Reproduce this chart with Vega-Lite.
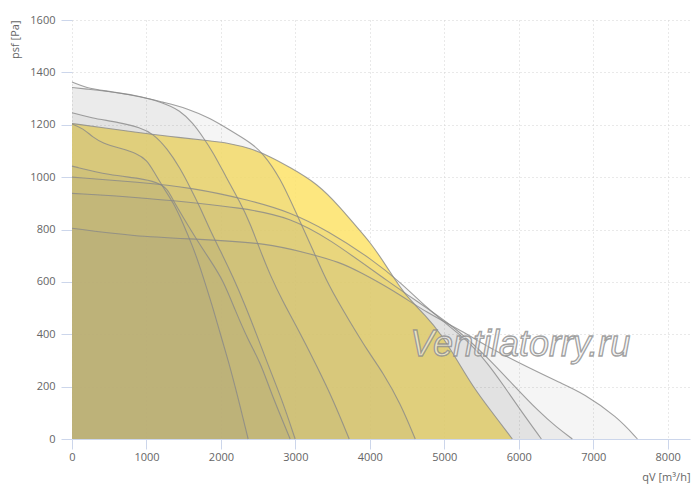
{
  "$schema": "https://vega.github.io/schema/vega-lite/v6.json",
  "width": 618,
  "height": 419,
  "autosize": {"type": "none"},
  "padding": {"left": 72, "top": 20, "right": 10, "bottom": 54},
  "background": "white",
  "config": {"view": {"stroke": null}, "font": "Open Sans"},
  "datasets": {
    "curves": [
      {"s": "A", "q": 0, "p": 1363}, {"s": "A", "q": 200, "p": 1340}, {"s": "A", "q": 417, "p": 1331}, {"s": "A", "q": 874, "p": 1312},
      {"s": "A", "q": 1223, "p": 1286}, {"s": "A", "q": 1546, "p": 1263}, {"s": "A", "q": 1855, "p": 1225}, {"s": "A", "q": 2124, "p": 1179},
      {"s": "A", "q": 2392, "p": 1133}, {"s": "A", "q": 2554, "p": 1095}, {"s": "A", "q": 2796, "p": 999}, {"s": "A", "q": 3024, "p": 854},
      {"s": "A", "q": 3239, "p": 721}, {"s": "A", "q": 3441, "p": 587}, {"s": "A", "q": 3736, "p": 446}, {"s": "A", "q": 3965, "p": 339},
      {"s": "A", "q": 4180, "p": 252}, {"s": "A", "q": 4408, "p": 137}, {"s": "A", "q": 4610, "p": 0},

      {"s": "B", "q": 0, "p": 1342}, {"s": "B", "q": 200, "p": 1336}, {"s": "B", "q": 417, "p": 1330}, {"s": "B", "q": 874, "p": 1311},
      {"s": "B", "q": 1223, "p": 1285}, {"s": "B", "q": 1452, "p": 1255}, {"s": "B", "q": 1626, "p": 1206}, {"s": "B", "q": 1761, "p": 1152},
      {"s": "B", "q": 1895, "p": 1095}, {"s": "B", "q": 2070, "p": 1000}, {"s": "B", "q": 2258, "p": 904}, {"s": "B", "q": 2392, "p": 824},
      {"s": "B", "q": 2527, "p": 721}, {"s": "B", "q": 2661, "p": 626}, {"s": "B", "q": 2822, "p": 530}, {"s": "B", "q": 3064, "p": 404},
      {"s": "B", "q": 3293, "p": 275}, {"s": "B", "q": 3508, "p": 149}, {"s": "B", "q": 3723, "p": 0},

      {"s": "C", "q": 0, "p": 1246}, {"s": "C", "q": 242, "p": 1227}, {"s": "C", "q": 645, "p": 1208}, {"s": "C", "q": 914, "p": 1189},
      {"s": "C", "q": 1089, "p": 1166}, {"s": "C", "q": 1277, "p": 1110}, {"s": "C", "q": 1452, "p": 1034}, {"s": "C", "q": 1586, "p": 961},
      {"s": "C", "q": 1720, "p": 885}, {"s": "C", "q": 1855, "p": 797}, {"s": "C", "q": 1989, "p": 721}, {"s": "C", "q": 2164, "p": 618},
      {"s": "C", "q": 2325, "p": 511}, {"s": "C", "q": 2473, "p": 404}, {"s": "C", "q": 2634, "p": 282}, {"s": "C", "q": 2822, "p": 149},
      {"s": "C", "q": 2997, "p": 0},

      {"s": "D", "q": 0, "p": 1203}, {"s": "D", "q": 148, "p": 1186}, {"s": "D", "q": 282, "p": 1152}, {"s": "D", "q": 417, "p": 1129},
      {"s": "D", "q": 645, "p": 1110}, {"s": "D", "q": 874, "p": 1091}, {"s": "D", "q": 1008, "p": 1064}, {"s": "D", "q": 1089, "p": 1026},
      {"s": "D", "q": 1223, "p": 961}, {"s": "D", "q": 1357, "p": 905}, {"s": "D", "q": 1492, "p": 824}, {"s": "D", "q": 1626, "p": 732},
      {"s": "D", "q": 1720, "p": 656}, {"s": "D", "q": 1788, "p": 595}, {"s": "D", "q": 1882, "p": 511}, {"s": "D", "q": 1989, "p": 404},
      {"s": "D", "q": 2097, "p": 301}, {"s": "D", "q": 2204, "p": 187}, {"s": "D", "q": 2366, "p": 0},

      {"s": "E", "q": 0, "p": 1205}, {"s": "E", "q": 376, "p": 1190}, {"s": "E", "q": 874, "p": 1171}, {"s": "E", "q": 1317, "p": 1155},
      {"s": "E", "q": 1814, "p": 1140}, {"s": "E", "q": 2124, "p": 1129}, {"s": "E", "q": 2392, "p": 1110}, {"s": "E", "q": 2661, "p": 1079},
      {"s": "E", "q": 2930, "p": 1037}, {"s": "E", "q": 3293, "p": 976}, {"s": "E", "q": 3602, "p": 885}, {"s": "E", "q": 3804, "p": 816},
      {"s": "E", "q": 4005, "p": 752}, {"s": "E", "q": 4234, "p": 656}, {"s": "E", "q": 4449, "p": 557}, {"s": "E", "q": 4771, "p": 465},
      {"s": "E", "q": 4946, "p": 404}, {"s": "E", "q": 5174, "p": 301}, {"s": "E", "q": 5389, "p": 198}, {"s": "E", "q": 5618, "p": 111},
      {"s": "E", "q": 5914, "p": 0},

      {"s": "F", "q": 0, "p": 1042}, {"s": "F", "q": 511, "p": 1007}, {"s": "F", "q": 914, "p": 996}, {"s": "F", "q": 1142, "p": 980},
      {"s": "F", "q": 1277, "p": 958}, {"s": "F", "q": 1357, "p": 912}, {"s": "F", "q": 1492, "p": 847}, {"s": "F", "q": 1680, "p": 759},
      {"s": "F", "q": 1855, "p": 683}, {"s": "F", "q": 2029, "p": 607}, {"s": "F", "q": 2191, "p": 492}, {"s": "F", "q": 2365, "p": 378},
      {"s": "F", "q": 2527, "p": 294}, {"s": "F", "q": 2661, "p": 187}, {"s": "F", "q": 2796, "p": 92}, {"s": "F", "q": 2930, "p": 0},

      {"s": "G", "q": 0, "p": 1000}, {"s": "G", "q": 914, "p": 980}, {"s": "G", "q": 1586, "p": 961}, {"s": "G", "q": 2392, "p": 912},
      {"s": "G", "q": 2930, "p": 866}, {"s": "G", "q": 3427, "p": 797}, {"s": "G", "q": 4045, "p": 683}, {"s": "G", "q": 4408, "p": 599},
      {"s": "G", "q": 4771, "p": 500}, {"s": "G", "q": 5080, "p": 427}, {"s": "G", "q": 5349, "p": 366}, {"s": "G", "q": 5578, "p": 290},
      {"s": "G", "q": 5793, "p": 206}, {"s": "G", "q": 6021, "p": 111}, {"s": "G", "q": 6304, "p": 0},

      {"s": "H", "q": 0, "p": 938}, {"s": "H", "q": 914, "p": 923}, {"s": "H", "q": 2392, "p": 881}, {"s": "H", "q": 2930, "p": 843},
      {"s": "H", "q": 3427, "p": 771}, {"s": "H", "q": 4274, "p": 595}, {"s": "H", "q": 4852, "p": 484}, {"s": "H", "q": 5215, "p": 408},
      {"s": "H", "q": 5578, "p": 313}, {"s": "H", "q": 5927, "p": 206}, {"s": "H", "q": 6290, "p": 99}, {"s": "H", "q": 6505, "p": 46},
      {"s": "H", "q": 6720, "p": 0},

      {"s": "I", "q": 0, "p": 805}, {"s": "I", "q": 820, "p": 774}, {"s": "I", "q": 1720, "p": 763}, {"s": "I", "q": 2621, "p": 748},
      {"s": "I", "q": 3158, "p": 710}, {"s": "I", "q": 3602, "p": 675}, {"s": "I", "q": 3871, "p": 637}, {"s": "I", "q": 4314, "p": 568},
      {"s": "I", "q": 4771, "p": 481}, {"s": "I", "q": 5215, "p": 416}, {"s": "I", "q": 5658, "p": 340}, {"s": "I", "q": 6115, "p": 275},
      {"s": "I", "q": 6559, "p": 214}, {"s": "I", "q": 6868, "p": 175}, {"s": "I", "q": 7325, "p": 84}, {"s": "I", "q": 7594, "p": 0}
    ],
    "watermark": [{"q": 6021, "p": 358, "label": "Ventilatorry.ru"}]
  },
  "encoding": {
    "x": {
      "field": "q",
      "type": "quantitative",
      "scale": {"domain": [0, 8300], "nice": false, "zero": true},
      "axis": {
        "values": [0, 1000, 2000, 3000, 4000, 5000, 6000, 7000, 8000],
        "format": "d",
        "title": "qV [m³/h]",
        "grid": true,
        "gridColor": "#d2d2d2",
        "gridDash": [1, 3],
        "domainColor": "#ccd6eb",
        "tickColor": "#ccd6eb",
        "tickSize": 10,
        "labelPadding": 2,
        "labelFlush": false,
        "labelColor": "#666666",
        "labelFontSize": 11,
        "titleColor": "#666666",
        "titleFontSize": 11,
        "titleFontWeight": "normal",
        "titleX": 618,
        "titleY": 38,
        "titleAlign": "right",
        "titleBaseline": "middle"
      }
    },
    "y": {
      "field": "p",
      "type": "quantitative",
      "stack": null,
      "scale": {"domain": [0, 1600], "nice": false},
      "axis": {
        "values": [0, 200, 400, 600, 800, 1000, 1200, 1400, 1600],
        "format": "d",
        "title": "psf [Pa]",
        "domain": false,
        "grid": true,
        "gridColor": "#d2d2d2",
        "gridDash": [1, 3],
        "tickColor": "#ccd6eb",
        "tickSize": 11,
        "labelPadding": 6,
        "labelFlush": false,
        "labelColor": "#666666",
        "labelFontSize": 11,
        "titleColor": "#666666",
        "titleFontSize": 11,
        "titleFontWeight": "normal",
        "titleAngle": -90,
        "titleX": -57,
        "titleY": 0,
        "titleAlign": "right",
        "titleBaseline": "middle"
      }
    }
  },
  "layer": [
    {
      "data": {"name": "curves"},
      "transform": [{"filter": "datum.s === 'E'"}],
      "mark": {"type": "area", "interpolate": "basis", "color": "#FDE368", "fillOpacity": 0.85}
    },
    {
      "data": {"name": "curves"},
      "transform": [{"filter": "datum.s !== 'E'"}],
      "mark": {"type": "area", "interpolate": "basis", "color": "#767676", "fillOpacity": 0.074},
      "encoding": {"detail": {"field": "s"}}
    },
    {
      "data": {"name": "curves"},
      "mark": {"type": "line", "interpolate": "basis", "color": "#888888", "strokeWidth": 1.1, "opacity": 0.8},
      "encoding": {"detail": {"field": "s"}}
    },
    {
      "data": {"name": "watermark"},
      "mark": {
        "type": "text",
        "font": "Liberation Sans",
        "fontStyle": "italic",
        "fontSize": 36,
        "align": "center",
        "baseline": "middle",
        "fill": "#eeeeee",
        "fillOpacity": 0.65,
        "stroke": "#8a8a8a",
        "strokeWidth": 1.3,
        "strokeOpacity": 0.8
      },
      "encoding": {"text": {"field": "label"}}
    }
  ]
}
